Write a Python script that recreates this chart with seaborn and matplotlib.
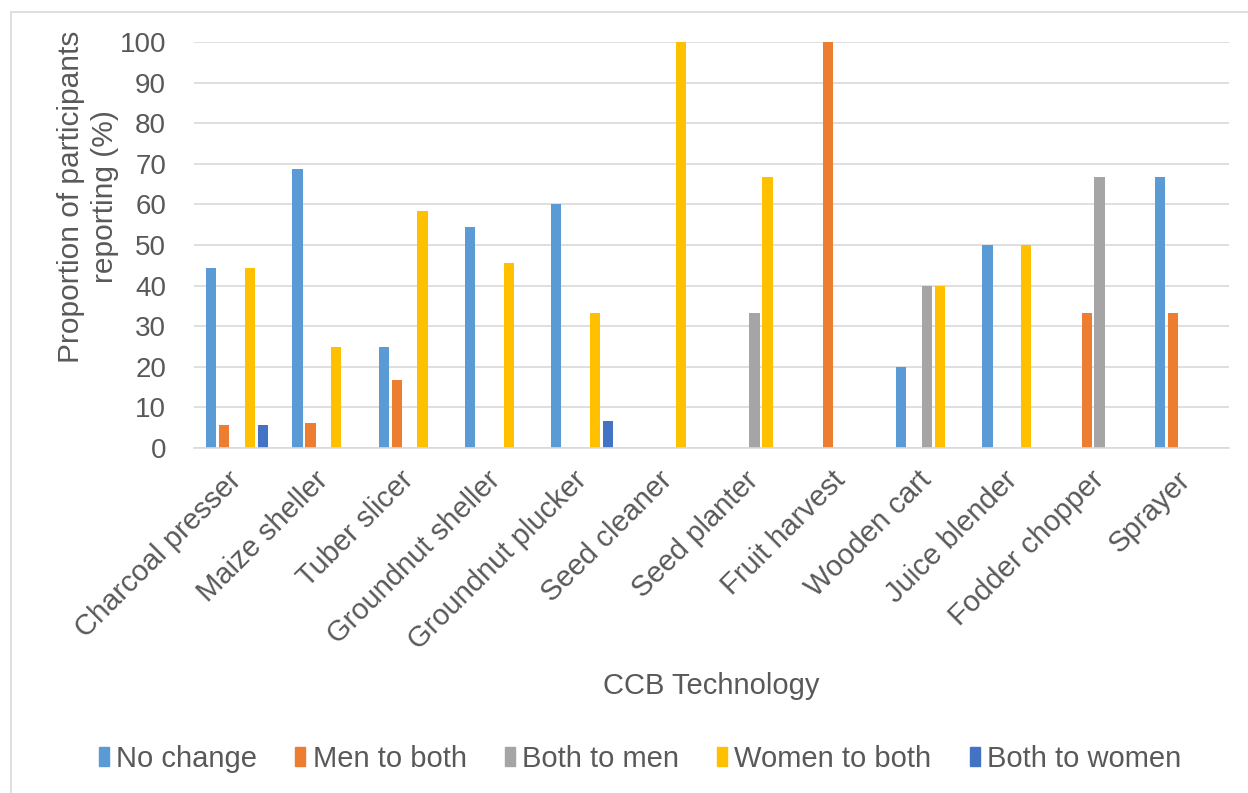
import pandas as pd
import matplotlib
matplotlib.use("Agg")
import matplotlib.pyplot as plt
import matplotlib.patches as mpatches
import seaborn as sns

technologies = ["Charcoal presser", "Maize sheller", "Tuber slicer", "Groundnut sheller",
                "Groundnut plucker", "Seed cleaner", "Seed planter", "Fruit harvest",
                "Wooden cart", "Juice blender", "Fodder chopper", "Sprayer"]
series = ["No change", "Men to both", "Both to men", "Women to both", "Both to women"]

no_change = [44.4, 68.75, 25.0, 54.5, 60.0, 0, 0, 0, 20.0, 50.0, 0, 66.7]
men_to_both = [5.6, 6.25, 16.7, 0, 0, 0, 0, 100.0, 0, 0, 33.3, 33.3]
both_to_men = [0, 0, 0, 0, 0, 0, 33.3, 0, 40.0, 0, 66.7, 0]
women_to_both = [44.4, 25.0, 58.3, 45.5, 33.3, 100.0, 66.7, 0, 40.0, 50.0, 0, 0]
both_to_women = [5.6, 0, 0, 0, 6.7, 0, 0, 0, 0, 0, 0, 0]

colors = ["#5B9BD5", "#ED7D31", "#A5A5A5", "#FFC000", "#4472C4"]
text_color = "#595959"

wide = pd.DataFrame({"Technology": technologies,
                     "No change": no_change,
                     "Men to both": men_to_both,
                     "Both to men": both_to_men,
                     "Women to both": women_to_both,
                     "Both to women": both_to_women})
df = wide.melt(id_vars="Technology", var_name="Change", value_name="Percent")

sns.set_style("white")
plt.rcParams["font.family"] = ["Liberation Sans", "DejaVu Sans"]
fs = 21

fig = plt.figure(figsize=(12.48, 7.93), dpi=100)
ax = fig.add_axes([194 / 1248, 1 - 448 / 793, (1229 - 194) / 1248, (448 - 42) / 793])

sns.barplot(data=df, x="Technology", y="Percent", hue="Change", hue_order=series,
            order=technologies, palette=colors, saturation=1, width=0.75, gap=0.2,
            linewidth=0, legend=False, ax=ax)

ax.set_ylim(0, 100)
ax.set_xlim(-0.5, len(technologies) - 0.5)
ax.set_yticks(range(0, 101, 10))
ax.yaxis.grid(True, color="#D9D9D9", linewidth=1.2)
ax.set_axisbelow(True)
for side in ["top", "right", "left"]:
    ax.spines[side].set_visible(False)
ax.spines["bottom"].set_color("#D9D9D9")
ax.spines["bottom"].set_linewidth(1.2)
ax.tick_params(axis="both", length=0, colors=text_color)
ax.tick_params(axis="y", pad=20, labelsize=20)
ax.tick_params(axis="x", pad=20, labelsize=fs)
plt.setp(ax.get_xticklabels(), rotation=45, ha="right", va="center", rotation_mode="anchor")

ax.set_ylabel("Proportion of participants\nreporting (%)", fontsize=21.5, color=text_color,
              linespacing=1.3)
ax.yaxis.label.set_verticalalignment("center")
ax.yaxis.set_label_coords(-(194 - 88) / 1035, (448 - 197) / 406)
ax.set_xlabel("CCB Technology", fontsize=fs, color=text_color)
ax.xaxis.set_label_coords(0.5, -(672 - 448) / 406)

handles = [mpatches.Patch(color=c, label=s) for c, s in zip(colors, series)]
fig.legend(handles=handles, loc="center", bbox_to_anchor=(640 / 1248, 1 - 759 / 793),
           ncol=5, frameon=False, fontsize=fs, labelcolor=text_color,
           handlelength=0.35, handleheight=0.6, handletextpad=0.25, columnspacing=1.3)

# chart area border
fig.patches.append(mpatches.Rectangle((11 / 1248, -0.1), 1.2, 1 - 12 / 793 + 0.1,
                                      transform=fig.transFigure, fill=False,
                                      edgecolor="#D9D9D9", linewidth=1.2))

fig.savefig("out.png", dpi=100)
